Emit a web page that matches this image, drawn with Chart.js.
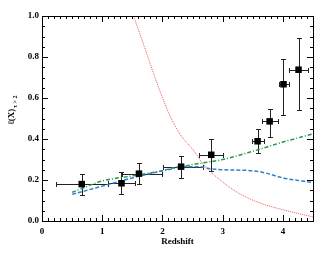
<!DOCTYPE html>
<html lang="en">
<head>
  <meta charset="UTF-8">
  <title>l(X) vs redshift</title>
  <script src="https://cdn.jsdelivr.net/npm/chart.js"></script>
  <style>
    html, body { margin: 0; padding: 0; background: #fff; }
    #wrap { width: 336px; height: 256px; }
  </style>
</head>
<body>
  <div id="wrap"><canvas id="lxChart" width="336" height="256"></canvas></div>
  <script>
    // measured points with error bars
    const zVals  = [0.66, 1.32, 1.61, 2.31, 2.81, 3.58, 3.78, 4.01, 4.26];
    const zLow   = [0.23, 1.09, 1.33, 2.01, 2.60, 3.48, 3.66, 3.93, 4.10];
    const zHigh  = [1.10, 1.55, 2.00, 2.67, 3.01, 3.69, 3.92, 4.10, 4.42];
    const lxVals = [0.180, 0.184, 0.231, 0.265, 0.323, 0.389, 0.486, 0.667, 0.738];
    const lxLow  = [0.127, 0.133, 0.179, 0.210, 0.245, 0.330, 0.410, 0.516, 0.541];
    const lxHigh = [0.230, 0.237, 0.281, 0.319, 0.400, 0.447, 0.546, 0.790, 0.894];

    // model curves
    const redZ   = [1.52, 1.70, 1.90, 2.10, 2.30, 2.50, 2.70, 3.00, 3.30, 3.60, 4.00, 4.50];
    const redL   = [1.00, 0.85, 0.68, 0.53, 0.42, 0.35, 0.27, 0.19, 0.13, 0.09, 0.055, 0.02];
    const blueZ  = [0.50, 1.00, 1.50, 2.00, 2.30, 2.60, 2.80, 3.00, 3.50, 3.70, 4.00, 4.50];
    const blueL  = [0.13, 0.17, 0.21, 0.245, 0.265, 0.265, 0.255, 0.25, 0.245, 0.235, 0.21, 0.188];
    const greenZ = [0.50, 1.00, 1.50, 2.00, 2.50, 3.00, 3.50, 4.00, 4.50];
    const greenL = [0.14, 0.195, 0.22, 0.245, 0.275, 0.30, 0.34, 0.385, 0.425];

    const xTicks = [0, 1, 2, 3, 4];
    const yTicks = [0.0, 0.2, 0.4, 0.6, 0.8, 1.0];

    const pts = (xs, ys) => xs.map((x, i) => ({ x: x, y: ys[i] }));
    const serif = '"Liberation Serif", "DejaVu Serif", serif';

    // frame, inward ticks, error bars, axis titles
    const framePlugin = {
      id: 'frame',
      beforeDatasetsDraw(chart) {
        const { ctx, chartArea: a, scales: { x, y } } = chart;
        ctx.save();
        ctx.strokeStyle = '#222';
        ctx.lineWidth = 1;
        for (let i = 0; i < zVals.length; i++) {
          const px = Math.round(x.getPixelForValue(zVals[i]));
          const py = Math.round(y.getPixelForValue(lxVals[i]));
          const x0 = Math.round(x.getPixelForValue(zLow[i])), x1 = Math.round(x.getPixelForValue(zHigh[i]));
          const y0 = Math.round(y.getPixelForValue(lxLow[i])), y1 = Math.round(y.getPixelForValue(lxHigh[i]));
          ctx.beginPath();
          ctx.moveTo(x0, py + 0.5); ctx.lineTo(x1, py + 0.5);
          ctx.moveTo(x0 + 0.5, py - 2); ctx.lineTo(x0 + 0.5, py + 3);
          ctx.moveTo(x1 + 0.5, py - 2); ctx.lineTo(x1 + 0.5, py + 3);
          ctx.moveTo(px + 0.5, y0); ctx.lineTo(px + 0.5, y1);
          ctx.moveTo(px - 2, y0 + 0.5); ctx.lineTo(px + 3, y0 + 0.5);
          ctx.moveTo(px - 2, y1 + 0.5); ctx.lineTo(px + 3, y1 + 0.5);
          ctx.stroke();
        }
        ctx.restore();
      },
      afterDraw(chart) {
        const { ctx, chartArea: a, scales: { x, y } } = chart;
        ctx.save();
        ctx.strokeStyle = '#000';
        ctx.lineWidth = 1;
        ctx.strokeRect(Math.round(a.left) + 0.5, Math.round(a.top) + 0.5,
          Math.round(a.right - a.left), Math.round(a.bottom - a.top));
        ctx.beginPath();
        for (let i = 0; i <= 45; i++) {
          const v = i / 10;
          const px = Math.round(x.getPixelForValue(v)) + 0.5;
          const len = i % 10 === 0 ? 6 : 3;
          ctx.moveTo(px, a.bottom); ctx.lineTo(px, a.bottom - len);
          ctx.moveTo(px, a.top); ctx.lineTo(px, a.top + len);
        }
        for (let i = 0; i <= 20; i++) {
          const v = i / 20;
          const py = Math.round(y.getPixelForValue(v)) + 0.5;
          const len = i % 4 === 0 ? 6 : 3;
          ctx.moveTo(a.left, py); ctx.lineTo(a.left + len, py);
          ctx.moveTo(a.right, py); ctx.lineTo(a.right - len, py);
        }
        ctx.stroke();

        ctx.fillStyle = '#000';
        ctx.font = 'bold 9px ' + serif;
        ctx.textAlign = 'center';
        ctx.textBaseline = 'middle';
        ctx.fillText('Redshift', (a.left + a.right) / 2, 242);

        ctx.translate(12, 110);
        ctx.rotate(-Math.PI / 2);
        ctx.textAlign = 'left';
        const main = 'ℓ(X)';
        const sub = 'τ > 2';
        ctx.font = 'bold 9px ' + serif;
        const w1 = ctx.measureText(main).width;
        ctx.font = 'bold 6px ' + serif;
        const w2 = ctx.measureText(sub).width;
        const start = -(w1 + w2 + 1) / 2;
        ctx.font = 'bold 9px ' + serif;
        ctx.fillText(main, start, 0);
        ctx.font = 'bold 6px ' + serif;
        ctx.fillText(sub, start + w1 + 1, 3);
        ctx.restore();
      }
    };

    const ctx = document.getElementById('lxChart').getContext('2d');
    new Chart(ctx, {
      type: 'scatter',
      data: {
        datasets: [
          {
            label: 'data',
            data: pts(zVals, lxVals),
            pointStyle: 'rect',
            pointRadius: 4.6,
            backgroundColor: '#000',
            borderColor: '#000',
            borderWidth: 0,
            order: 0
          },
          {
            label: 'red',
            data: pts(redZ, redL),
            showLine: true,
            pointRadius: 0,
            borderColor: 'rgba(235, 70, 70, 0.9)',
            borderWidth: 1,
            borderDash: [1, 1],
            cubicInterpolationMode: 'monotone',
            order: 1
          },
          {
            label: 'blue',
            data: pts(blueZ, blueL),
            showLine: true,
            pointRadius: 0,
            borderColor: 'rgb(45, 130, 210)',
            borderWidth: 1.5,
            borderDash: [4, 2],
            cubicInterpolationMode: 'monotone',
            order: 1
          },
          {
            label: 'green',
            data: pts(greenZ, greenL),
            showLine: true,
            pointRadius: 0,
            borderColor: 'rgb(40, 150, 70)',
            borderWidth: 1.5,
            borderDash: [4, 2, 1, 2],
            cubicInterpolationMode: 'monotone',
            order: 1
          }
        ]
      },
      options: {
        responsive: false,
        animation: false,
        devicePixelRatio: 1,
        layout: { padding: { left: 0, top: 16, right: 23, bottom: 0 } },
        plugins: { legend: { display: false }, tooltip: { enabled: false } },
        scales: {
          x: {
            type: 'linear',
            min: 0, max: 4.5,
            afterBuildTicks: (s) => { s.ticks = xTicks.map(v => ({ value: v })); },
            afterFit: (s) => { s.height = 35; },
            grid: { display: false, drawTicks: false },
            border: { display: false },
            ticks: {
              padding: 5,
              color: '#000',
              font: { family: serif, size: 9, weight: 'bold' },
              callback: (v) => String(v)
            }
          },
          y: {
            min: 0, max: 1,
            afterBuildTicks: (s) => { s.ticks = yTicks.map(v => ({ value: v })); },
            afterFit: (s) => { s.width = 42; },
            grid: { display: false, drawTicks: false },
            border: { display: false },
            ticks: {
              padding: 3,
              color: '#000',
              font: { family: serif, size: 9, weight: 'bold' },
              callback: (v) => v.toFixed(1)
            }
          }
        }
      },
      plugins: [framePlugin]
    });
  </script>
</body>
</html>
